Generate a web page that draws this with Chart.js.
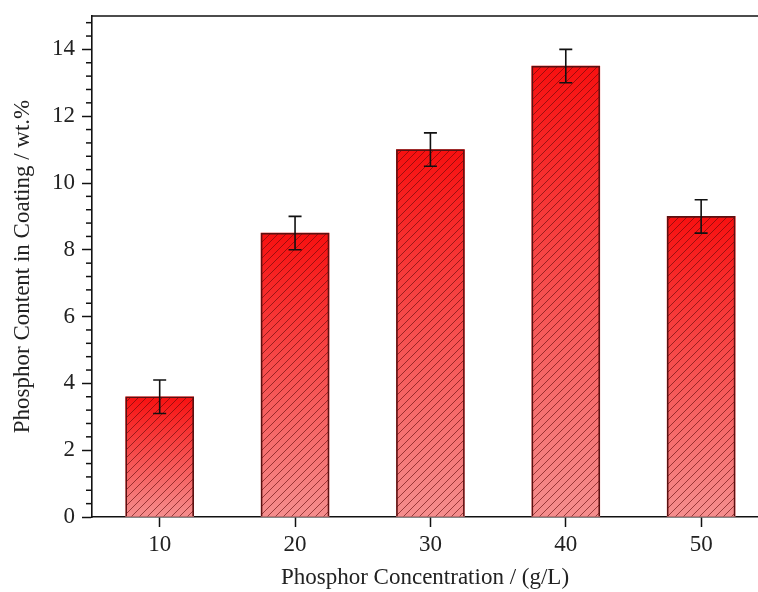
<!DOCTYPE html>
<html>
<head>
<meta charset="utf-8">
<script src="https://cdn.jsdelivr.net/npm/chart.js@4.4.0/dist/chart.umd.min.js"></script>
<style>
  html, body { margin: 0; padding: 0; background: #fff; overflow: hidden; }
</style>
</head>
<body>
<canvas id="phosphorChart" width="758" height="592"></canvas>
<script>
var concentration = [10, 20, 30, 40, 50];
var phosphorContent = [3.6, 8.5, 11.0, 13.5, 9.0];
var contentError = [0.5, 0.5, 0.5, 0.5, 0.5];

var serif = "'Liberation Serif', 'Times New Roman', serif";
var points = concentration.map(function(c, i){ return {x: c, y: phosphorContent[i]}; });

function barGradient(ctx){
  var chart = ctx.chart;
  if (!chart.chartArea || ctx.type !== 'data') return '#f04848';
  var ys = chart.scales.y;
  var top = ys.getPixelForValue(ctx.raw.y), bottom = ys.getPixelForValue(0);
  var g = chart.ctx.createLinearGradient(0, top, 0, bottom);
  g.addColorStop(0, '#f81010');
  g.addColorStop(1, '#f58e8e');
  return g;
}

function makeHatch(){
  var s = 8;
  var c = document.createElement('canvas');
  c.width = s; c.height = s;
  var p = c.getContext('2d');
  p.strokeStyle = 'rgba(100,10,10,0.7)';
  p.lineWidth = 0.9;
  p.beginPath();
  p.moveTo(0, s); p.lineTo(s, 0);
  p.moveTo(-s/2, s/2); p.lineTo(s/2, -s/2);
  p.moveTo(s/2, s*1.5); p.lineTo(s*1.5, s/2);
  p.stroke();
  return p.createPattern(c, 'repeat');
}

// error bars, top frame line, minor y ticks
var extras = {
  id: 'extras',
  afterDatasetsDraw: function(chart){
    var ctx = chart.ctx, xs = chart.scales.x, ys = chart.scales.y, a = chart.chartArea;
    ctx.save();
    ctx.strokeStyle = '#111';
    ctx.lineWidth = 1.6;
    concentration.forEach(function(c, i){
      var x = xs.getPixelForValue(c);
      var hi = ys.getPixelForValue(phosphorContent[i] + contentError[i]);
      var lo = ys.getPixelForValue(phosphorContent[i] - contentError[i]);
      ctx.beginPath();
      ctx.moveTo(x, hi); ctx.lineTo(x, lo);
      ctx.moveTo(x - 6.5, hi); ctx.lineTo(x + 6.5, hi);
      ctx.moveTo(x - 6.5, lo); ctx.lineTo(x + 6.5, lo);
      ctx.stroke();
    });
    ctx.beginPath();
    ctx.moveTo(a.left, a.top); ctx.lineTo(a.right, a.top);
    ctx.stroke();
    ctx.lineWidth = 1.5;
    for (var k = 1; k * 0.4 <= ys.max; k++){
      if (k % 5 === 0) continue;
      var y = ys.getPixelForValue(k * 0.4);
      ctx.beginPath();
      ctx.moveTo(a.left - 6, y); ctx.lineTo(a.left, y);
      ctx.stroke();
    }
    ctx.restore();
  }
};

new Chart(document.getElementById('phosphorChart').getContext('2d'), {
  type: 'bar',
  plugins: [extras],
  data: {
    datasets: [{
      data: points,
      backgroundColor: barGradient,
      borderWidth: 0,
      barThickness: 68,
      grouped: false,
      order: 2
    },{
      data: points,
      backgroundColor: makeHatch(),
      borderColor: '#5a1212',
      borderWidth: 1,
      barThickness: 68,
      grouped: false,
      order: 1
    }]
  },
  options: {
    responsive: false,
    animation: false,
    layout: { padding: { top: 16, right: 0, left: 0, bottom: 0 } },
    scales: {
      x: {
        type: 'linear',
        min: 5,
        max: 54.2,
        offset: false,
        afterBuildTicks: function(scale){
          scale.ticks = concentration.map(function(v){ return {value: v}; });
        },
        afterFit: function(scale){ scale.height = 75; scale.paddingRight = 0; },
        ticks: { font: { family: serif, size: 23 }, color: '#222', padding: 4, maxRotation: 0 },
        grid: { offset: false, drawOnChartArea: false, tickLength: 10, tickWidth: 1.5, tickColor: '#111' },
        border: { color: '#111', width: 1.6 },
        title: {
          display: true,
          text: 'Phosphor Concentration / (g/L)',
          font: { family: serif, size: 23 },
          color: '#222',
          padding: { top: 2, bottom: 0 }
        }
      },
      y: {
        min: 0,
        max: 15,
        afterFit: function(scale){ scale.width = 92; scale.paddingTop = 0; },
        ticks: { stepSize: 2, includeBounds: false, font: { family: serif, size: 23 }, color: '#222', padding: 7 },
        grid: { drawOnChartArea: false, tickLength: 10, tickWidth: 1.5, tickColor: '#111' },
        border: { color: '#111', width: 1.6 },
        title: {
          display: true,
          text: 'Phosphor Content in Coating / wt.%',
          font: { family: serif, size: 23 },
          color: '#222',
          padding: { top: 9, bottom: 2 }
        }
      }
    },
    plugins: {
      legend: { display: false },
      tooltip: { enabled: false }
    }
  }
});
</script>
</body>
</html>
